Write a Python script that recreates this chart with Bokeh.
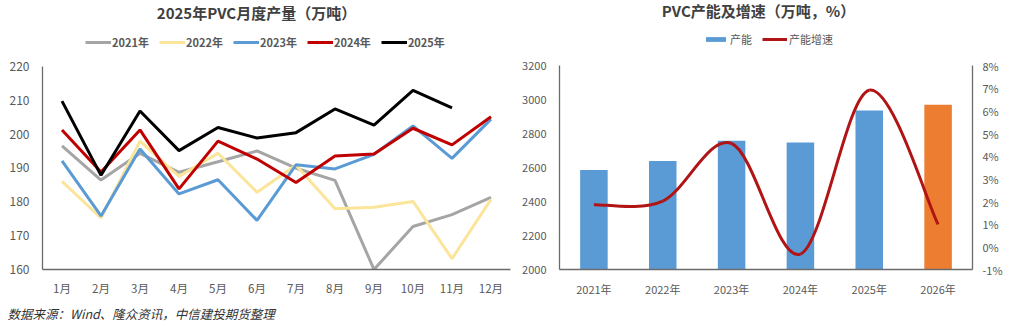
from bokeh.plotting import figure
from bokeh.layouts import row
from bokeh.models import (FactorRange, Range1d, LinearAxis, FixedTicker, Legend, LegendItem,
                          Title, Label, ColumnDataSource)
from bokeh.embed import file_html
from bokeh.resources import INLINE

# ---------------- data ----------------
months = ["1月", "2月", "3月", "4月", "5月", "6月", "7月", "8月", "9月", "10月", "11月", "12月"]
series_names = ["2021年", "2022年", "2023年", "2024年", "2025年"]
prod_2021 = [196.5, 186.4, 194.3, 188.7, 191.8, 195.0, 189.9, 186.3, 160.0, 172.7, 176.2, 181.3]
prod_2022 = [186.0, 175.2, 197.9, 187.5, 194.3, 182.8, 190.8, 177.9, 178.4, 180.1, 163.2, 180.7]
prod_2023 = [192.1, 175.8, 195.6, 182.3, 186.5, 174.5, 190.9, 189.7, 194.0, 202.4, 192.8, 204.4]
prod_2024 = [201.2, 188.8, 201.2, 183.8, 197.9, 192.6, 185.7, 193.5, 194.1, 201.7, 196.8, 205.1]
prod_2025 = [209.7, 187.8, 206.8, 195.1, 201.9, 198.8, 200.4, 207.4, 202.6, 212.9, 207.7]
y_ticks_left = [160, 170, 180, 190, 200, 210, 220]

years = ["2021年", "2022年", "2023年", "2024年", "2025年", "2026年"]
capacity = [2585, 2638, 2758, 2747, 2935, 2970]
growth_pct = [1.86, 2.02, 4.56, -0.32, 6.91, 0.99]
cap_ticks = [2000, 2200, 2400, 2600, 2800, 3000, 3200]
pct_ticks = [-1, 0, 1, 2, 3, 4, 5, 6, 7, 8]

FONT = "Noto Sans CJK SC"
TXT = "#595959"
AX = "#6b6b6b"
HEADER = 66  # px of header space (title + legend) kept inside the frame, above the axes


def style_axis(ax, size):
    ax.axis_line_color = AX
    ax.axis_line_width = 1.3
    ax.major_tick_line_color = None
    ax.minor_tick_line_color = None
    ax.major_tick_out = 0
    ax.major_tick_in = 0
    ax.major_label_text_font = FONT
    ax.major_label_text_color = TXT
    ax.major_label_text_font_size = size


def extended_top(lo, hi, plot_px):
    return hi + (hi - lo) * HEADER / plot_px


# ---------------- left chart ----------------
L_PLOT = 204
p1 = figure(width=515, height=326, output_backend="svg", toolbar_location=None,
            x_range=FactorRange(*months, range_padding=0),
            y_range=Range1d(160, extended_top(160, 220, L_PLOT)),
            min_border_left=42, min_border_right=5, min_border_top=0, min_border_bottom=56)
p1.outline_line_color = None
p1.grid.visible = False

colors = ["#A5A5A5", "#FBE59A", "#5B9BD5", "#C00000", "#000000"]
all_series = [prod_2021, prod_2022, prod_2023, prod_2024, prod_2025]
items = []
for name, vals, c in zip(series_names, all_series, colors):
    r = p1.line(months[:len(vals)], vals, line_color=c, line_width=3)
    items.append(LegendItem(label=name, renderers=[r]))

p1.yaxis.ticker = FixedTicker(ticks=y_ticks_left)
p1.yaxis.bounds = (160, 220)
style_axis(p1.xaxis[0], "11.5px")
style_axis(p1.yaxis[0], "12px")
p1.yaxis.major_label_standoff = 13
p1.xaxis.major_label_standoff = 10

leg1 = Legend(items=items, orientation="horizontal", location=(43, 219),
              glyph_width=26, glyph_height=12, label_standoff=1, spacing=10,
              padding=0, margin=0, border_line_color=None, background_fill_alpha=0,
              label_text_font=FONT, label_text_font_size="11px", label_text_font_style="bold",
              label_text_color=TXT, label_height=12)
p1.add_layout(leg1, "center")
p1.add_layout(Label(x=214, y=257, x_units="screen", y_units="screen",
                    text="2025年PVC月度产量（万吨）", text_align="center", text_baseline="middle",
                    text_font=FONT, text_font_size="15px", text_font_style="bold",
                    text_color="#404040"))
p1.add_layout(Title(text="数据来源：Wind、隆众资讯，中信建投期货整理", align="left", offset=-35,
                    standoff=7, text_font=FONT, text_font_size="12.5px",
                    text_font_style="italic", text_color="#333333"), "below")

# ---------------- right chart ----------------
R_PLOT = 207
xs = list(range(len(years)))
p2 = figure(width=498, height=326, output_backend="svg", toolbar_location=None,
            x_range=Range1d(-0.5, len(years) - 0.5),
            y_range=Range1d(2000, extended_top(2000, 3200, R_PLOT)),
            min_border_left=44, min_border_right=41, min_border_top=0, min_border_bottom=53)
p2.outline_line_color = None
p2.grid.visible = False
p2.extra_y_ranges = {"pct": Range1d(-1, extended_top(-1, 8, R_PLOT))}

bar_colors = ["#ED7D31" if y == "2026年" else "#5B9BD5" for y in years]
src = ColumnDataSource(dict(x=xs, top=capacity, color=bar_colors))
bars = p2.vbar(x="x", top="top", bottom=2000, width=0.4, fill_color="color",
               line_color=None, source=src)

# smooth (Excel-like) curve through the growth points, as cubic Bezier segments
n = len(xs)
x0s, y0s, x1s, y1s, cx0, cy0, cx1, cy1 = [], [], [], [], [], [], [], []
for i in range(n - 1):
    pm = (xs[max(i - 1, 0)], growth_pct[max(i - 1, 0)])
    pa = (xs[i], growth_pct[i])
    pb = (xs[i + 1], growth_pct[i + 1])
    pn = (xs[min(i + 2, n - 1)], growth_pct[min(i + 2, n - 1)])
    x0s.append(pa[0]); y0s.append(pa[1]); x1s.append(pb[0]); y1s.append(pb[1])
    cx0.append(pa[0] + (pb[0] - pm[0]) / 6); cy0.append(pa[1] + (pb[1] - pm[1]) / 6)
    cx1.append(pb[0] - (pn[0] - pa[0]) / 6); cy1.append(pb[1] - (pn[1] - pa[1]) / 6)
curve = p2.bezier(x0=x0s, y0=y0s, x1=x1s, y1=y1s, cx0=cx0, cy0=cy0, cx1=cx1, cy1=cy1,
                  line_color="#B01414", line_width=3, y_range_name="pct")

p2.xaxis.ticker = FixedTicker(ticks=xs)
p2.xaxis.major_label_overrides = {i: y for i, y in enumerate(years)}
p2.yaxis.ticker = FixedTicker(ticks=cap_ticks)
p2.yaxis.bounds = (2000, 3200)
ax_r = LinearAxis(y_range_name="pct", ticker=FixedTicker(ticks=pct_ticks), bounds=(-1, 8),
                  major_label_overrides={t: f"{t}%" for t in pct_ticks})
p2.add_layout(ax_r, "right")
for ax in (p2.xaxis[0], p2.yaxis[0], ax_r):
    style_axis(ax, "11px")
p2.yaxis[0].major_label_standoff = 13
ax_r.major_label_standoff = 10
p2.xaxis.major_label_standoff = 11

leg2 = Legend(items=[LegendItem(label="产能", renderers=[bars]),
                     LegendItem(label="产能增速", renderers=[curve])],
              orientation="horizontal", location=(144, 222),
              glyph_width=25, glyph_height=6, label_standoff=2, spacing=10,
              padding=0, margin=0, border_line_color=None, background_fill_alpha=0,
              label_text_font=FONT, label_text_font_size="11px",
              label_text_color=TXT, label_height=12)
p2.add_layout(leg2, "center")
p2.add_layout(Label(x=199, y=259, x_units="screen", y_units="screen",
                    text="PVC产能及增速（万吨，%）", text_align="center", text_baseline="middle",
                    text_font=FONT, text_font_size="15px", text_font_style="bold",
                    text_color="#404040"))

layout = row(p1, p2, spacing=0)
open("out.html", "w").write(file_html(layout, INLINE))
